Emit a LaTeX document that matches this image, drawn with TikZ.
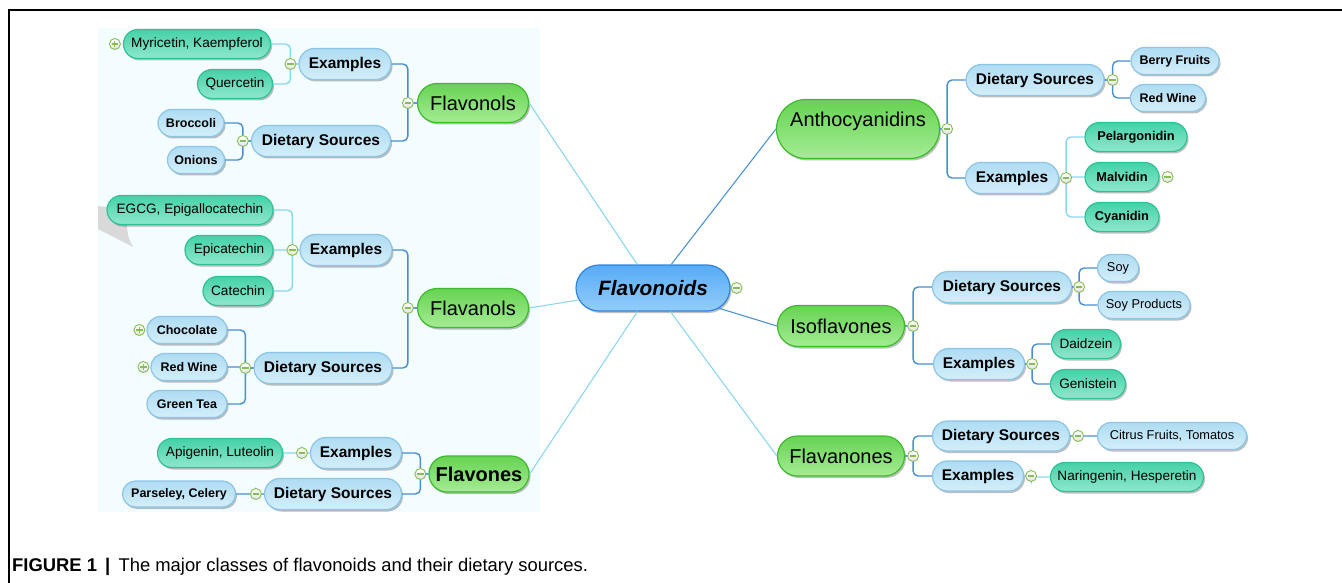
\documentclass[tikz,border=0pt]{standalone}
\usepackage{fontspec}
\setmainfont{Liberation Sans}
\usetikzlibrary{shapes.misc,shadows}

\definecolor{roottop}{HTML}{57ABF7}
\definecolor{rootbot}{HTML}{93CDFA}
\definecolor{rootline}{HTML}{2F85DD}
\definecolor{greentop}{HTML}{66D352}
\definecolor{greenbot}{HTML}{A5EC94}
\definecolor{greenline}{HTML}{3DBB2C}
\definecolor{bluetop}{HTML}{AFDCF3}
\definecolor{bluebot}{HTML}{D4EEFA}
\definecolor{blueline}{HTML}{8CC6E6}
\definecolor{tealtop}{HTML}{45D1A8}
\definecolor{tealbot}{HTML}{8FE8CD}
\definecolor{tealline}{HTML}{31C197}
\definecolor{btnline}{HTML}{86BD56}
\definecolor{btnfill}{HTML}{E2E2E2}
\definecolor{stemblue}{HTML}{4A8ED2}
\definecolor{linklight}{HTML}{8CD7F0}
\definecolor{linkdark}{HTML}{4C93D3}
\definecolor{bgtint}{HTML}{F3FCFE}
\definecolor{callgrey}{HTML}{D9D9D9}

\begin{document}
\begin{tikzpicture}[x=1pt,y=-1pt,
	pill/.style={rounded rectangle, inner xsep=3pt, inner ysep=0pt, line width=1.2pt,
		drop shadow={shadow xshift=1.5pt, shadow yshift=-2pt, opacity=0.25, fill=black}},
	rootnode/.style={pill, draw=rootline, top color=roottop, bottom color=rootbot, minimum height=46,
		font=\fontsize{20.8}{24}\selectfont\bfseries\itshape},
	classnode/.style={pill, draw=greenline, top color=greentop, bottom color=greenbot, minimum height=39,
		font=\fontsize{20}{24}\selectfont},
	groupnode/.style={pill, draw=blueline, top color=bluetop, bottom color=bluebot, minimum height=31,
		font=\fontsize{15.5}{18}\selectfont\bfseries},
	srcnode/.style={pill, draw=blueline, top color=bluetop, bottom color=bluebot, minimum height=27,
		font=\fontsize{12.5}{15}\selectfont\bfseries},
	cmpnode/.style={pill, draw=tealline, top color=tealtop, bottom color=tealbot, minimum height=29,
		font=\fontsize{13.6}{16}\selectfont},
	plaintext/.style={font=\fontsize{12.8}{15}\selectfont},
	boldtext/.style={font=\fontsize{12.8}{15}\selectfont\bfseries},
	btn/.style={circle, draw=btnline, line width=0.9pt, inner sep=0pt, minimum size=11,
		top color=white, bottom color=btnfill},
	minusbtn/.style={btn, path picture={\draw[btnline, line width=1.1pt]
		([xshift=2.2pt]path picture bounding box.west) -- ([xshift=-2.2pt]path picture bounding box.east);}},
	plusbtn/.style={btn, path picture={\draw[btnline, line width=1.1pt]
		([xshift=2.2pt]path picture bounding box.west) -- ([xshift=-2.2pt]path picture bounding box.east)
		([yshift=-2.2pt]path picture bounding box.north) -- ([yshift=2.2pt]path picture bounding box.south);}},
	trunklight/.style={draw=linklight, line width=1.1pt},
	trunkdark/.style={draw=linkdark, line width=1.1pt},
	stem/.style={draw=stemblue, line width=1.4pt, rounded corners=5pt},
	twig/.style={draw=linklight, line width=1.4pt, rounded corners=5pt},
	]
	\useasboundingbox (0,0) rectangle (1342,583);

	%Background
	\fill[bgtint] (98,28) rectangle (540,512);
	\fill[callgrey] (98,206) -- (128,210) -- (127,224) to[bend right=15] (133,247) -- (98,229) -- cycle;
	\draw[line width=1.5pt] (9,583) -- (9,10) -- (1342,10);

	%Nodes
	\node[rootnode]  (fo)  at (653,288) [minimum width=160] {Flavonoids};

	\node[classnode] (fl1) at (473,103) [minimum width=117] {Flavonols};
	\node[classnode] (fl2) at (473,308) [minimum width=117] {Flavanols};
	\node[classnode] (fl3) at (479,474) [minimum width=106, minimum height=36, font=\fontsize{20}{24}\selectfont\bfseries] {Flavones};
	\node[classnode] (an)  at (858,129) [minimum width=169, minimum height=59, text height=14pt, text depth=18pt] {Anthocyanidins};
	\node[classnode] (iso) at (841,326) [minimum width=133, minimum height=41] {Isoflavones};
	\node[classnode] (fla) at (841,456) [minimum width=133, minimum height=40] {Flavanones};

	\node[groupnode] (ex1) at (345,64)  [minimum width=98]  {Examples};
	\node[groupnode] (ds1) at (321,141) [minimum width=145] {Dietary Sources};
	\node[groupnode] (ex2) at (346,250) [minimum width=98]  {Examples};
	\node[groupnode] (ds2) at (323,368) [minimum width=144] {Dietary Sources};
	\node[groupnode] (ex3) at (356,453) [minimum width=97]  {Examples};
	\node[groupnode] (ds3) at (333,494) [minimum width=143] {Dietary Sources};
	\node[groupnode] (ds4) at (1035,80)  [minimum width=144] {Dietary Sources};
	\node[groupnode] (ex4) at (1012,178) [minimum width=99]  {Examples};
	\node[groupnode] (ds5) at (1002,287) [minimum width=145] {Dietary Sources};
	\node[groupnode] (ex5) at (979,364)  [minimum width=97]  {Examples};
	\node[groupnode] (ds6) at (1001,436) [minimum width=143, minimum height=30] {Dietary Sources};
	\node[groupnode] (ex6) at (978,476)  [minimum width=97, minimum height=30]  {Examples};

	\node[cmpnode] (my) at (197,44)  [minimum width=153] {Myricetin, Kaempferol};
	\node[cmpnode] (qu) at (235,84)  [minimum width=81]  {Quercetin};
	\node[srcnode] (br) at (191,123) [minimum width=72]  {Broccoli};
	\node[srcnode] (on) at (196,160) [minimum width=63]  {Onions};

	\node[cmpnode] (eg) at (190,210) [minimum width=172] {EGCG, Epigallocatechin};
	\node[cmpnode] (ep) at (229,250) [minimum width=94]  {Epicatechin};
	\node[cmpnode] (ca) at (238,291) [minimum width=76]  {Catechin};
	\node[srcnode] (ch) at (187,330) [minimum width=86]  {Chocolate};
	\node[srcnode] (rw) at (189,367) [minimum width=82]  {Red Wine};
	\node[srcnode] (gt) at (187,404) [minimum width=86]  {Green Tea};

	\node[cmpnode] (ap) at (220,453) [minimum width=131] {Apigenin, Luteolin};
	\node[srcnode] (pc) at (179,494) [minimum width=119, minimum height=26] {Parseley, Celery};

	\node[srcnode] (bf)  at (1175,61) [minimum width=94] {Berry Fruits};
	\node[srcnode] (rw2) at (1168,98) [minimum width=81] {Red Wine};
	\node[cmpnode] (pe)  at (1136,137) [minimum width=108, boldtext] {Pelargonidin};
	\node[cmpnode] (ma)  at (1122,177) [minimum width=80, boldtext]  {Malvidin};
	\node[cmpnode] (cy)  at (1122,217) [minimum width=80, boldtext]  {Cyanidin};

	\node[srcnode] (so) at (1118,268) [minimum width=47, plaintext] {Soy};
	\node[srcnode] (sp) at (1144,305) [minimum width=98, plaintext] {Soy Products};
	\node[cmpnode] (da) at (1086,344) [minimum width=75]  {Daidzein};
	\node[cmpnode] (ge) at (1088,384) [minimum width=81]  {Genistein};

	\node[srcnode] (ci) at (1172,436) [minimum width=155, plaintext] {Citrus Fruits, Tomatos};
	\node[cmpnode] (na) at (1127,477) [minimum width=159] {Naringenin, Hesperetin};

	%Joints
	\coordinate (kfl1) at ([xshift=-9pt]fl1.west);
	\coordinate (kfl2) at ([xshift=-9pt]fl2.west);
	\coordinate (kfl3) at ([xshift=-8pt]fl3.west);
	\coordinate (kex1) at ([xshift=-8pt]ex1.west);
	\coordinate (kds1) at ([xshift=-8pt]ds1.west);
	\coordinate (kex2) at ([xshift=-7pt]ex2.west);
	\coordinate (kds2) at ([xshift=-8pt]ds2.west);
	\coordinate (kex3) at ([xshift=-8pt]ex3.west);
	\coordinate (kds3) at ([xshift=-8pt]ds3.west);
	\coordinate (kan)  at ([xshift=7pt]an.east);
	\coordinate (kiso) at ([xshift=8pt]iso.east);
	\coordinate (kfla) at ([xshift=8pt]fla.east);
	\coordinate (kds4) at ([xshift=8pt]ds4.east);
	\coordinate (kex4) at ([xshift=7pt]ex4.east);
	\coordinate (kds5) at ([xshift=7pt]ds5.east);
	\coordinate (kex5) at ([xshift=7pt]ex5.east);
	\coordinate (kds6) at ([xshift=8pt]ds6.east);
	\coordinate (kex6) at ([xshift=7pt]ex6.east);

	%Lines
	\draw[trunklight] (fo) -- (fl1.east);
	\draw[trunklight] (fo) -- (fl2.east);
	\draw[trunklight] (fo) -- (fl3.east);
	\draw[trunkdark]  (fo) -- (an.west);
	\draw[trunkdark]  (fo) -- (iso.west);
	\draw[trunklight] (fo) -- (fla.west);

	\draw[stem] (fl1.west) -- (kfl1) |- (ex1.east);
	\draw[stem] (fl1.west) -- (kfl1) |- (ds1.east);
	\draw[stem] (fl2.west) -- (kfl2) |- (ex2.east);
	\draw[stem] (fl2.west) -- (kfl2) |- (ds2.east);
	\draw[stem] (fl3.west) -- (kfl3) |- (ex3.east);
	\draw[stem] (fl3.west) -- (kfl3) |- (ds3.east);
	\draw[stem] (an.east)  -- (kan)  |- (ds4.west);
	\draw[stem] (an.east)  -- (kan)  |- (ex4.west);
	\draw[stem] (iso.east) -- (kiso) |- (ds5.west);
	\draw[stem] (iso.east) -- (kiso) |- (ex5.west);
	\draw[stem] (fla.east) -- (kfla) |- (ds6.west);
	\draw[stem] (fla.east) -- (kfla) |- (ex6.west);

	\draw[twig] (ex1.west) -- (kex1) |- (my.east);
	\draw[twig] (ex1.west) -- (kex1) |- (qu.east);
	\draw[stem] (ds1.west) -- (kds1) |- (br.east);
	\draw[stem] (ds1.west) -- (kds1) |- (on.east);
	\draw[twig] (ex2.west) -- (kex2) |- (eg.east);
	\draw[twig] (ex2.west) -- (kex2) |- (ep.east);
	\draw[twig] (ex2.west) -- (kex2) |- (ca.east);
	\draw[stem] (ds2.west) -- (kds2) |- (ch.east);
	\draw[stem] (ds2.west) -- (kds2) |- (rw.east);
	\draw[stem] (ds2.west) -- (kds2) |- (gt.east);
	\draw[twig] (ex3.west) -- (kex3) |- (ap.east);
	\draw[stem] (ds3.west) -- (kds3) |- (pc.east);
	\draw[stem] (ds4.east) -- (kds4) |- (bf.west);
	\draw[stem] (ds4.east) -- (kds4) |- (rw2.west);
	\draw[twig] (ex4.east) -- (kex4) |- (pe.west);
	\draw[twig] (ex4.east) -- (kex4) |- (ma.west);
	\draw[twig] (ex4.east) -- (kex4) |- (cy.west);
	\draw[stem] (ds5.east) -- (kds5) |- (so.west);
	\draw[stem] (ds5.east) -- (kds5) |- (sp.west);
	\draw[stem] (ex5.east) -- (kex5) |- (da.west);
	\draw[stem] (ex5.east) -- (kex5) |- (ge.west);
	\draw[stem] (ds6.east) -- (kds6) |- (ci.west);
	\draw[twig] (ex6.east) -- (kex6) |- (na.west);

	%Buttons
	\node[minusbtn] (bfo)  at ([xshift=6pt]fo.east) {};
	\node[minusbtn] (bfl1) at (kfl1) {};
	\node[minusbtn] (bfl2) at (kfl2) {};
	\node[minusbtn] (bfl3) at (kfl3) {};
	\node[minusbtn] (bex1) at (kex1) {};
	\node[minusbtn] (bds1) at (kds1) {};
	\node[minusbtn] (bex2) at (kex2) {};
	\node[minusbtn] (bds2) at (kds2) {};
	\node[minusbtn] (bex3) at (kex3) {};
	\node[minusbtn] (bds3) at (kds3) {};
	\node[minusbtn] (ban)  at (kan) {};
	\node[minusbtn] (biso) at (kiso) {};
	\node[minusbtn] (bfla) at (kfla) {};
	\node[minusbtn] (bds4) at (kds4) {};
	\node[minusbtn] (bex4) at (kex4) {};
	\node[minusbtn] (bds5) at (kds5) {};
	\node[minusbtn] (bex5) at (kex5) {};
	\node[minusbtn] (bds6) at (kds6) {};
	\node[minusbtn] (bex6) at (kex6) {};
	\node[minusbtn] (bma)  at ([xshift=8pt]ma.east) {};
	\node[plusbtn]  (bmy)  at ([xshift=-8pt]my.west) {};
	\node[plusbtn]  (bch)  at ([xshift=-7pt]ch.west) {};
	\node[plusbtn]  (brw)  at ([xshift=-7pt]rw.west) {};

	%Caption
	\node[anchor=base west, inner sep=0pt, font=\fontsize{18.4}{21}\selectfont] (cap) at (12,571)
		{\textbf{FIGURE 1 \,|}\, The major classes of flavonoids and their dietary sources.};
\end{tikzpicture}
\end{document}
